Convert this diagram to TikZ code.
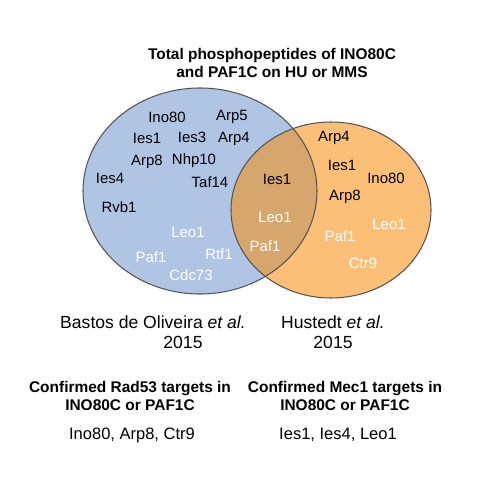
\documentclass[tikz,border=0pt]{standalone}
\usepackage{fontspec}
\setmainfont{Liberation Sans}
\usepackage{tikz}
\usetikzlibrary{positioning}

\definecolor{vennblue}{HTML}{B0C4E4}
\definecolor{vennorange}{HTML}{FCBF78}
\definecolor{vennmix}{HTML}{D6A66C}
\definecolor{vennline}{HTML}{555555}

\begin{document}
\begin{tikzpicture}[x=0.02cm, y=0.02cm,
  lab/.style={font=\fontsize{8.5}{10}\selectfont, text=black, inner sep=0pt},
  wlab/.style={lab, text=white},
  ref/.style={font=\fontsize{10}{12}\selectfont, align=center, inner sep=0pt},
  targets/.style={ref, font=\fontsize{9.4}{11}\selectfont},
  head/.style={font=\bfseries\fontsize{8.8}{10.5}\selectfont, align=center, inner sep=0pt}]

\useasboundingbox (0,0) rectangle (500,-500);

% cerchi
\coordinate (B) at (200,-191); % Bastos
\coordinate (H) at (331,-210); % Hustedt
\fill[vennblue] (B) ellipse [x radius=117, y radius=103];
\fill[vennorange] (H) ellipse [x radius=100, y radius=88];
\begin{scope}
  \clip (B) ellipse [x radius=117, y radius=103];
  \fill[vennmix] (H) ellipse [x radius=100, y radius=88];
\end{scope}
\draw[vennline, semithick] (B) ellipse [x radius=117, y radius=103];
\draw[vennline, semithick] (H) ellipse [x radius=100, y radius=88];

% titolo
\node[head] (title) at (272,-63) {Total phosphopeptides of INO80C\\and PAF1C on HU or MMS};

% solo Bastos
\node[lab] (bIno80) at (167,-117) {Ino80};
\node[lab] (bArp5) at (232,-117) {Arp5};
\node[lab] (bIes1) at (147,-138) {Ies1};
\node[lab] (bIes3) at (192,-137) {Ies3};
\node[lab] (bArp4) at (234,-139) {Arp4};
\node[lab] (bArp8) at (147,-162) {Arp8};
\node[lab] (bNhp10) at (194,-161) {Nhp10};
\node[lab] (bIes4) at (110,-178) {Ies4};
\node[lab] (bTaf14) at (210,-182) {Taf14};
\node[lab] (bRvb1) at (119,-207) {Rvb1};
\node[wlab] (bLeo1) at (188,-232) {Leo1};
\node[wlab] (bPaf1) at (151,-257) {Paf1};
\node[wlab] (bRtf1) at (219,-254) {Rtf1};
\node[wlab] (bCdc73) at (191,-275) {Cdc73};

% intersezione
\node[lab] (mIes1) at (277,-179) {Ies1};
\node[wlab] (mLeo1) at (275,-217) {Leo1};
\node[wlab] (mPaf1) at (265,-246) {Paf1};

% solo Hustedt
\node[lab] (hArp4) at (334,-138) {Arp4};
\node[lab] (hIes1) at (342,-165) {Ies1};
\node[lab] (hIno80) at (386,-178) {Ino80};
\node[lab] (hArp8) at (345,-197) {Arp8};
\node[wlab] (hLeo1) at (389,-224) {Leo1};
\node[wlab] (hPaf1) at (340,-236) {Paf1};
\node[wlab] (hCtr9) at (363,-263) {Ctr9};

% riferimenti
\node[ref] (bastos) at (153,-322) {Bastos de Oliveira \textit{et al.}};
\node[ref] (bastosY) at (183,-342) {2015};
\node[ref] (hustedt) at (333,-322) {Hustedt \textit{et al.}};
\node[ref] (hustedtY) at (333,-342) {2015};

% bersagli confermati
\node[head] (rad53) at (130,-396) {Confirmed Rad53 targets in\\INO80C or PAF1C};
\node[targets] (rad53list) at (132,-435) {Ino80, Arp8, Ctr9};
\node[head] (mec1) at (345,-396) {Confirmed Mec1 targets in\\INO80C or PAF1C};
\node[targets] (mec1list) at (338,-435) {Ies1, Ies4, Leo1};

\end{tikzpicture}
\end{document}
